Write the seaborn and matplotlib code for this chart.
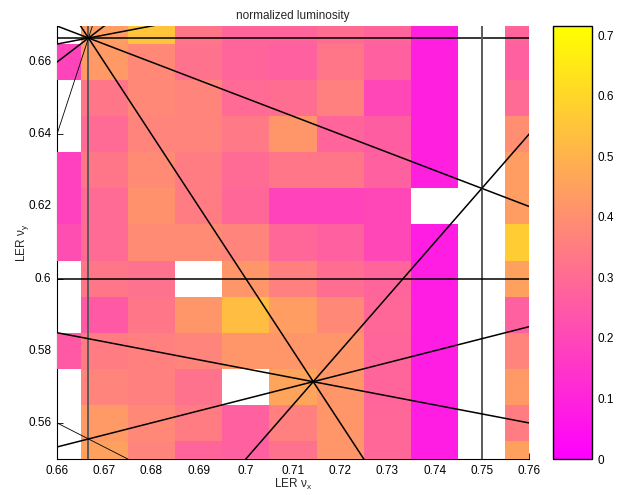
import numpy as np
import pandas as pd
import matplotlib
matplotlib.use("Agg")
import matplotlib.pyplot as plt
import matplotlib.transforms as mtransforms
import seaborn as sns

# ---------------- data ----------------
nu_x = [0.66, 0.67, 0.68, 0.69, 0.70, 0.71, 0.72, 0.73, 0.74, 0.75, 0.76]
nu_y = [0.67, 0.66, 0.65, 0.64, 0.63, 0.62, 0.61, 0.60, 0.59, 0.58, 0.57, 0.56, 0.55]
nan = np.nan
lumi = [
    [nan, 0.44, 0.55, 0.33, 0.28, 0.28, 0.31, 0.28, 0.09, nan, 0.28],
    [0.19, 0.43, 0.38, 0.32, 0.28, 0.27, 0.33, 0.27, 0.09, nan, 0.27],
    [nan, 0.33, 0.38, 0.37, 0.30, 0.31, 0.36, 0.20, 0.09, nan, 0.30],
    [nan, 0.30, 0.37, 0.37, 0.34, 0.42, 0.28, 0.26, 0.09, nan, 0.40],
    [0.18, 0.33, 0.39, 0.35, 0.30, 0.33, 0.33, 0.27, 0.09, nan, 0.44],
    [0.18, 0.30, 0.41, 0.35, 0.29, 0.19, 0.19, 0.20, nan, nan, 0.44],
    [0.22, 0.30, 0.39, 0.39, 0.37, 0.29, 0.27, 0.20, 0.08, nan, 0.57],
    [nan, 0.33, 0.32, nan, 0.42, 0.36, 0.31, 0.28, 0.08, nan, 0.45],
    [nan, 0.25, 0.33, 0.42, 0.53, 0.44, 0.38, 0.29, 0.08, nan, 0.27],
    [0.25, 0.35, 0.36, 0.37, 0.42, 0.42, 0.42, 0.28, 0.08, nan, 0.37],
    [nan, 0.37, 0.36, 0.32, nan, 0.46, 0.42, 0.28, 0.08, nan, 0.43],
    [nan, 0.43, 0.38, 0.35, 0.27, 0.36, 0.42, 0.29, 0.08, nan, 0.35],
    [nan, 0.45, 0.37, 0.28, 0.27, 0.32, 0.42, 0.29, 0.08, nan, 0.45],
]
# resonance lines m*nu_x + n*nu_y = p
res_m = [1, 3, 0, 2, 1, 4, 1, 0, 1, 2, 4, 1, 3]
res_n = [-1, 0, 3, 1, 2, 0, -3, 5, 4, 3, -1, -4, -2]
res_p = [0, 2, 2, 2, 2, 3, -1, 3, 3, 3, 2, -2, 1]
res_thin = [False, False, False, False, False, False, False, False, False, True, True, False, False]

x_ticks = [0.66, 0.67, 0.68, 0.69, 0.70, 0.71, 0.72, 0.73, 0.74, 0.75, 0.76]
y_ticks = [0.56, 0.58, 0.60, 0.62, 0.64, 0.66]
cb_ticks = [0, 0.1, 0.2, 0.3, 0.4, 0.5, 0.6, 0.7]
vmax = 0.715

# ---------------- style ----------------
sns.set_style("white")
plt.rcParams["font.family"] = ["Liberation Sans", "DejaVu Sans"]
plt.rcParams["mathtext.fontset"] = "custom"
plt.rcParams["mathtext.rm"] = "Liberation Sans"
plt.rcParams["mathtext.it"] = "Liberation Sans"
plt.rcParams["mathtext.default"] = "regular"
fs = 8.5

fig = plt.figure(figsize=(6.27, 4.95), dpi=100)
W, H = 627, 495
ax = fig.add_axes([57 / W, (H - 459) / H, (529 - 57) / W, (459 - 26) / H])
cax = fig.add_axes([553 / W, (H - 459) / H, (592 - 553) / W, (459 - 26) / H])

df = pd.DataFrame(lumi, index=nu_y, columns=nu_x)
sns.heatmap(df, ax=ax, cmap="spring", vmin=0, vmax=vmax, cbar_ax=cax)

# map heatmap cell coordinates onto the tune values
dx = nu_x[1] - nu_x[0]
dy = nu_y[0] - nu_y[1]
mesh = ax.collections[0]
mesh.set_transform(
    mtransforms.Affine2D().scale(dx, -dy).translate(nu_x[0] - dx / 2, nu_y[0] + dy / 2)
    + ax.transData
)
mesh.set_zorder(1)

x0, x1 = 0.66, 0.76
y0, y1 = 0.55, 0.67
ax.set_xlim(x0, x1)
ax.set_ylim(y0, y1)

# resonance lines
xs = np.array([x0 - 0.01, x1 + 0.01])
for m, n, p, thin in zip(res_m, res_n, res_p, res_thin):
    lw = 0.6 if thin else 1.1
    if n == 0:
        ax.axvline(p / m, color="#5a5a5a", lw=1.4, zorder=3)
    elif m == 0:
        ax.axhline(p / n, color="black", lw=lw, zorder=3)
    else:
        ax.plot(xs, (p - m * xs) / n, color="black", lw=lw, zorder=3)

# axes cosmetics
for name, sp in ax.spines.items():
    sp.set_visible(name in ("left", "bottom"))
    sp.set_color("black")
    sp.set_linewidth(0.8)
    sp.set_zorder(0.5)
ax.xaxis.set_zorder(0.4)
ax.yaxis.set_zorder(0.4)
ax.set_xticks(x_ticks)
ax.set_xticklabels([f"{t:g}" for t in x_ticks], rotation=0, fontsize=fs)
ax.set_yticks(y_ticks)
ax.set_yticklabels([f"{t:g}" for t in y_ticks], rotation=0, fontsize=fs)
ax.tick_params(direction="in", length=4, width=0.6, colors="black", pad=4,
               bottom=True, left=True, top=False, right=False)
ax.set_xlabel("LER ν$_x$", fontsize=fs, labelpad=0)
ax.set_ylabel("LER ν$_y$", fontsize=fs, labelpad=-2)
ax.set_title("normalized luminosity", fontsize=fs, pad=5)

# colorbar cosmetics
cb = ax.collections[0].colorbar
cb.set_ticks(cb_ticks)
cb.set_ticklabels([f"{t:g}" for t in cb_ticks])
cb.outline.set_visible(True)
cb.outline.set_edgecolor("black")
cb.outline.set_linewidth(1.0)
cax.tick_params(labelsize=fs, direction="in", length=3, width=0.6, colors="black",
                left=True, right=True, pad=4)

fig.savefig("out.png", dpi=100)
